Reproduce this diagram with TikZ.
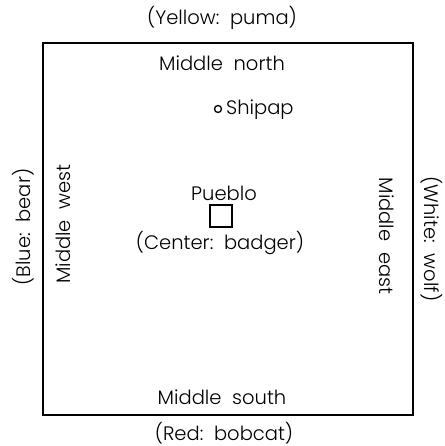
\documentclass[tikz,border=0pt]{standalone}
\usepackage{fontspec}
\setmainfont{Poppins}[UprightFont=* Light]
\begin{document}
\begin{tikzpicture}[x=1pt,y=1pt,
  lbl/.style={inner sep=0pt, font=\fontsize{19.5}{22}\selectfont},
  frame/.style={draw, line width=1.8pt},
  site/.style={draw, line width=1.3pt}]
\useasboundingbox (0,0) rectangle (444,446);
% the world square
\draw[frame] (43,31) rectangle (413,403);
% directions, outside the square
\node[lbl] (yellow) at (222,428) {(Yellow:\ \ puma)};
\node[lbl] (red) at (224,13) {(Red:\ \ bobcat)};
\node[lbl, rotate=90] (blue) at (23,219) {(Blue:\ \ bear)};
\node[lbl, rotate=-90] (white) at (432,207) {(White:\ \ wolf)};
% middle places, inside the square
\node[lbl] (mnorth) at (222,383) {Middle\ \ north};
\node[lbl] (msouth) at (222,49) {Middle\ \ south};
\node[lbl, rotate=90] (mwest) at (63,222) {Middle\ \ west};
\node[lbl, rotate=-90] (meast) at (387,210) {Middle\ \ east};
% Shipap and the pueblo
\node[site, circle, minimum size=7pt, inner sep=0pt] (shipapdot) at (218,337) {};
\node[lbl, anchor=west] (shipap) at (226,336) {Shipap};
\node[lbl] (pueblo) at (224,253) {Pueblo};
\node[site, rectangle, minimum size=22pt, inner sep=0pt] (puebloSq) at (221,230) {};
\node[lbl] (center) at (220,203) {(Center:\ \ badger)};
\end{tikzpicture}
\end{document}
